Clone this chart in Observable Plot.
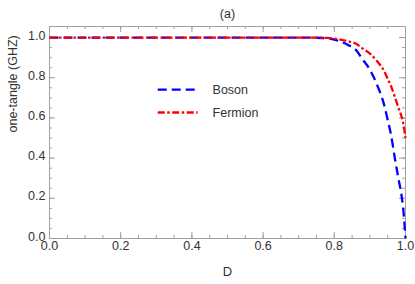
<!DOCTYPE html>
<html>
<head>
<meta charset="utf-8">
<script src="https://cdn.jsdelivr.net/npm/d3@7"></script>
<script src="https://cdn.jsdelivr.net/npm/@observablehq/plot@0.6"></script>
<style>
  html, body { margin: 0; padding: 0; background: #fff; }
  #chart { width: 415px; height: 284px; }
</style>
</head>
<body>
<div id="chart"></div>
<script>
// ---- data ----
const D =      [0, 0.1, 0.2, 0.3, 0.4, 0.5, 0.6, 0.7, 0.75, 0.78, 0.8, 0.82, 0.84, 0.86, 0.88, 0.9, 0.92, 0.94, 0.95, 0.96, 0.97, 0.98, 0.99, 0.995, 1];
const boson =  [1, 1, 1, 1, 1, 1, 1, 1, 0.999, 0.996, 0.99, 0.978, 0.962, 0.94, 0.89, 0.84, 0.765, 0.665, 0.59, 0.51, 0.4, 0.3, 0.2, 0.12, 0];
const fermion = [1, 1, 1, 1, 1, 1, 1, 1, 0.9995, 0.998, 0.995, 0.989, 0.981, 0.97, 0.945, 0.92, 0.883, 0.833, 0.795, 0.755, 0.705, 0.652, 0.6, 0.56, 0.5];
const seriesNames = ["Boson", "Fermion"];
const xTicks = [0, 0.2, 0.4, 0.6, 0.8, 1.0];
const yTicks = [0, 0.2, 0.4, 0.6, 0.8, 1.0];
const minorTicks = d3.range(0, 1.0001, 0.05);
const titleText = "(a)";
const xLabel = "D";
const yLabel = "one-tangle (GHZ)";

// ---- layout / style ----
const W = 415, H = 284;
const M = {top: 26, right: 10, bottom: 46, left: 49};
const innerH = H - M.top - M.bottom;
const innerW = W - M.left - M.right;
const colors = ["#0000ff", "#ff0000"];
const dashes = ["9,5", "7,2.5,2.5,2.5"];
const font = "Liberation Sans, Arial, sans-serif";
const txt = "#333";
const frameColor = "#a0a0a0";
// legend position (in data units)
const legendX = [0.304, 0.416];
const legendY = [0.741, 0.627];
const legendTextX = 0.458;

const rows = D.map((d, i) => ({D: d, b: boson[i], f: fermion[i]}));
const legendRows = seriesNames.map((s, i) => ({name: s, y: legendY[i], x1: legendX[0], x2: legendX[1], xt: legendTextX}));

const chart = Plot.plot({
  width: W, height: H,
  marginTop: M.top, marginRight: M.right, marginBottom: M.bottom, marginLeft: M.left,
  style: {fontFamily: font, background: "#fff"},
  x: {domain: [0, 1], axis: null},
  y: {domain: [0, 1.055], axis: null},
  marks: [
    // minor ticks
    Plot.tickX(minorTicks, {x: d => d, insetTop: innerH - 3, stroke: frameColor}),
    Plot.tickX(minorTicks, {x: d => d, insetBottom: innerH - 3, stroke: frameColor}),
    Plot.tickY(minorTicks, {y: d => d, insetRight: innerW - 3, stroke: frameColor}),
    Plot.tickY(minorTicks, {y: d => d, insetLeft: innerW - 3, stroke: frameColor}),
    // major ticks
    Plot.tickX(xTicks, {x: d => d, insetTop: innerH - 6, stroke: frameColor}),
    Plot.tickX(xTicks, {x: d => d, insetBottom: innerH - 6, stroke: frameColor}),
    Plot.tickY(yTicks, {y: d => d, insetRight: innerW - 6, stroke: frameColor}),
    Plot.tickY(yTicks, {y: d => d, insetLeft: innerW - 6, stroke: frameColor}),
    Plot.frame({stroke: frameColor}),
    // tick labels
    Plot.text(xTicks, {x: d => d, frameAnchor: "bottom", lineAnchor: "top", dy: 3, text: d => d.toFixed(1), fontSize: 12.5, fill: txt}),
    Plot.text(yTicks, {y: d => d, frameAnchor: "left", textAnchor: "end", dx: -4, dy: -2, text: d => d.toFixed(1), fontSize: 12.5, fill: txt}),
    // axis labels & title
    Plot.text([xLabel], {frameAnchor: "bottom", dy: 37, text: d => d, fontSize: 13, fill: txt}),
    Plot.text([yLabel], {frameAnchor: "left", dx: -37, rotate: -90, text: d => d, fontSize: 12.5, fill: txt}),
    Plot.text([titleText], {frameAnchor: "top", dy: -17, text: d => d, fontSize: 12.5, fill: txt}),
    // curves
    Plot.line(rows, {x: "D", y: "b", stroke: colors[0], strokeWidth: 2.3, strokeDasharray: dashes[0], strokeLinecap: "butt", curve: "monotone-x"}),
    Plot.line(rows, {x: "D", y: "f", stroke: colors[1], strokeWidth: 2.3, strokeDasharray: dashes[1], strokeLinecap: "butt", curve: "monotone-x"}),
    // legend
    Plot.link([legendRows[0]], {x1: "x1", x2: "x2", y1: "y", y2: "y", stroke: colors[0], strokeDasharray: dashes[0], strokeLinecap: "butt", strokeWidth: 2.3}),
    Plot.link([legendRows[1]], {x1: "x1", x2: "x2", y1: "y", y2: "y", stroke: colors[1], strokeDasharray: dashes[1], strokeLinecap: "butt", strokeWidth: 2.3}),
    Plot.text(legendRows, {x: "xt", y: "y", text: "name", textAnchor: "start", fontSize: 12.5, fill: txt})
  ]
});
document.getElementById("chart").appendChild(chart);
</script>
</body>
</html>
